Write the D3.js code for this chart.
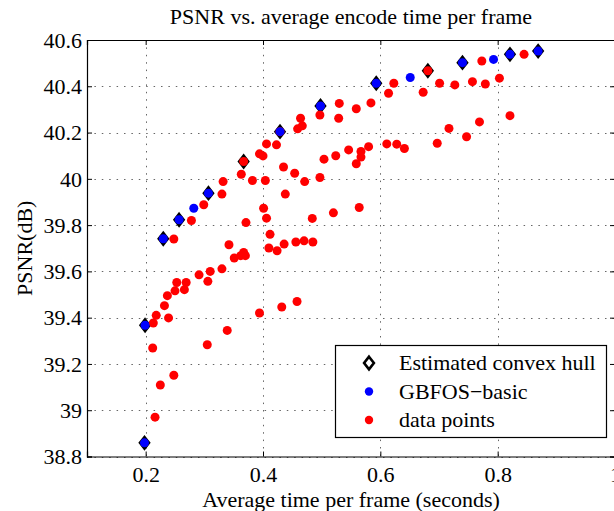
<!DOCTYPE html>
<html><head><meta charset="utf-8">
<script src="https://cdn.jsdelivr.net/npm/d3@7/dist/d3.min.js"></script>
<style>
body{margin:0;background:#fff}
svg{display:block}
text{font-family:"Liberation Serif","Times New Roman",serif;fill:#000}
</style>
</head><body>
<svg id="chart" width="614" height="511"></svg>
<script>
// ---- data ----
const xTicks = [0.2, 0.4, 0.6, 0.8, 1];
const yTicks = [38.8, 39, 39.2, 39.4, 39.6, 39.8, 40, 40.2, 40.4, 40.6];
const hullX = [0.198,0.199,0.230,0.257,0.307,0.367,0.429,0.498,0.593,0.681,0.740,0.821,0.869];
const hullY = [38.859,39.367,39.741,39.823,39.938,40.075,40.204,40.315,40.413,40.467,40.502,40.538,40.552];
const gbfosX = [0.198,0.199,0.230,0.257,0.282,0.307,0.429,0.498,0.593,0.651,0.740,0.793,0.821,0.869];
const gbfosY = [38.859,39.367,39.741,39.823,39.873,39.938,40.204,40.315,40.413,40.438,40.502,40.516,40.538,40.552];
const dataX = [0.216,0.225,0.248,0.212,0.305,0.339,0.213,0.239,0.218,0.394,0.432,0.458,0.232,0.237,0.250,0.266,0.253,0.269,0.306,0.291,
  0.310,0.330,0.351,0.362,0.370,0.367,0.424,0.410,0.342,0.436,0.456,0.470,0.485,0.412,0.248,0.278,0.371,0.406,0.484,0.520,
  0.401,0.564,0.299,0.330,0.438,0.332,0.382,0.404,0.471,0.497,0.363,0.454,0.435,0.367,0.504,0.559,0.567,0.400,0.394,0.524,
  0.567,0.546,0.641,0.580,0.423,0.406,0.611,0.628,0.697,0.747,0.429,0.459,0.717,0.467,0.769,0.464,0.529,0.821,0.497,0.559,
  0.530,0.584,0.614,0.673,0.727,0.779,0.623,0.701,0.757,0.803,0.681,0.773,0.845];
const dataY = [38.970,39.109,39.151,39.269,39.283,39.345,39.377,39.399,39.410,39.420,39.446,39.470,39.452,39.495,39.516,39.521,39.552,39.552,39.557,39.585,
  39.600,39.611,39.658,39.668,39.668,39.682,39.689,39.701,39.715,39.718,39.727,39.732,39.727,39.760,39.740,39.820,39.811,39.830,39.829,39.853,
  39.873,39.876,39.888,39.934,39.934,39.988,39.993,39.993,39.988,40.006,40.020,40.024,40.051,40.075,40.085,40.065,40.094,40.099,40.108,40.100,
  40.118,40.125,40.131,40.139,40.147,40.151,40.151,40.150,40.154,40.182,40.204,40.216,40.218,40.229,40.246,40.262,40.262,40.273,40.276,40.303,
  40.326,40.328,40.370,40.374,40.406,40.410,40.413,40.413,40.420,40.435,40.467,40.509,40.538];
const legendLabels = ["Estimated convex hull", "GBFOS\u2212basic", "data points"];
const titleText = "PSNR vs. average encode time per frame";
const xLabel = "Average time per frame (seconds)";
const yLabel = "PSNR(dB)";

// ---- layout ----
const L = 87, R = 615, T = 40, B = 456.5;
const svg = d3.select("#chart");
const x = d3.scaleLinear().domain([0.1, 1.0]).range([L, R]);
const y = d3.scaleLinear().domain([38.8, 40.6]).range([B, T]);
const fmt = d3.format("~g");
const FS = 22;

// grid
const grid = svg.append("g").attr("stroke", "#666").attr("stroke-width", 1).attr("stroke-dasharray", "1.5,5.9");
grid.selectAll(".gx").data(xTicks).join("line")
  .attr("x1", d => Math.round(x(d)) + 0.5).attr("x2", d => Math.round(x(d)) + 0.5).attr("y1", T).attr("y2", B);
grid.selectAll(".gy").data(yTicks).join("line")
  .attr("y1", d => Math.round(y(d)) + 0.5).attr("y2", d => Math.round(y(d)) + 0.5).attr("x1", L).attr("x2", R);

// axes
const gB = svg.append("g").attr("transform", `translate(0,${B})`)
  .call(d3.axisBottom(x).tickValues(xTicks).tickSize(-5).tickPadding(10).tickFormat(fmt));
const gT = svg.append("g").attr("transform", `translate(0,${T})`)
  .call(d3.axisTop(x).tickValues(xTicks).tickSize(-5).tickFormat(""));
const gL = svg.append("g").attr("transform", `translate(${L},0)`)
  .call(d3.axisLeft(y).tickValues(yTicks).tickSize(-5).tickPadding(5).tickFormat(fmt));
const gR = svg.append("g").attr("transform", `translate(${R},0)`)
  .call(d3.axisRight(y).tickValues(yTicks).tickSize(-5).tickFormat(""));
[gB, gT, gL, gR].forEach(g => {
  g.selectAll("path.domain").attr("stroke", "#000").attr("stroke-width", 1.2);
  g.selectAll(".tick line").attr("stroke", "#000").attr("stroke-width", 1);
  g.selectAll("text").attr("font-size", FS).attr("font-family", '"Liberation Serif","Times New Roman",serif').attr("fill", "#000");
});
gL.selectAll(".tick text").attr("dy", "0.33em");

// markers
const dpath = "M0,-6.3L4.9,0L0,6.3L-4.9,0Z";
svg.append("g").selectAll("path").data(hullX.map((v, i) => [v, hullY[i]])).join("path")
  .attr("d", dpath).attr("transform", d => `translate(${x(d[0])},${y(d[1])})`)
  .attr("fill", "#000").attr("stroke", "#000").attr("stroke-width", 2).attr("stroke-linejoin", "miter");
svg.append("g").selectAll("circle").data(dataX.map((v, i) => [v, dataY[i]])).join("circle")
  .attr("cx", d => x(d[0])).attr("cy", d => y(d[1])).attr("r", 4.5).attr("fill", "#ff0000");
svg.append("g").selectAll("circle").data(gbfosX.map((v, i) => [v, gbfosY[i]])).join("circle")
  .attr("cx", d => x(d[0])).attr("cy", d => y(d[1])).attr("r", 4.5).attr("fill", "#0000ff");

// titles
svg.append("text").attr("x", (L + R) / 2).attr("y", 24).attr("text-anchor", "middle").attr("font-size", FS).text(titleText);
svg.append("text").attr("x", (L + R) / 2).attr("y", 507).attr("text-anchor", "middle").attr("font-size", FS).text(xLabel);
svg.append("text").attr("transform", `translate(32,${(T + B) / 2}) rotate(-90)`).attr("text-anchor", "middle").attr("font-size", FS).text(yLabel);

// legend
const lg = svg.append("g");
lg.append("rect").attr("x", 335.5).attr("y", 345.5).attr("width", 271).attr("height", 92)
  .attr("fill", "#fff").attr("stroke", "#000").attr("stroke-width", 1.2);
const rows = [363, 391.5, 420];
lg.append("path").attr("d", dpath).attr("transform", `translate(369,${rows[0]})`)
  .attr("fill", "#fff").attr("stroke", "#000").attr("stroke-width", 2.6);
lg.append("circle").attr("cx", 369).attr("cy", rows[1]).attr("r", 4.2).attr("fill", "#0000ff");
lg.append("circle").attr("cx", 369).attr("cy", rows[2]).attr("r", 4.2).attr("fill", "#ff0000");
lg.selectAll("text.l").data(legendLabels).join("text").attr("class", "l")
  .attr("x", 399).attr("y", (d, i) => rows[i]).attr("dy", "0.34em").attr("font-size", FS).text(d => d);
</script>
</body></html>
